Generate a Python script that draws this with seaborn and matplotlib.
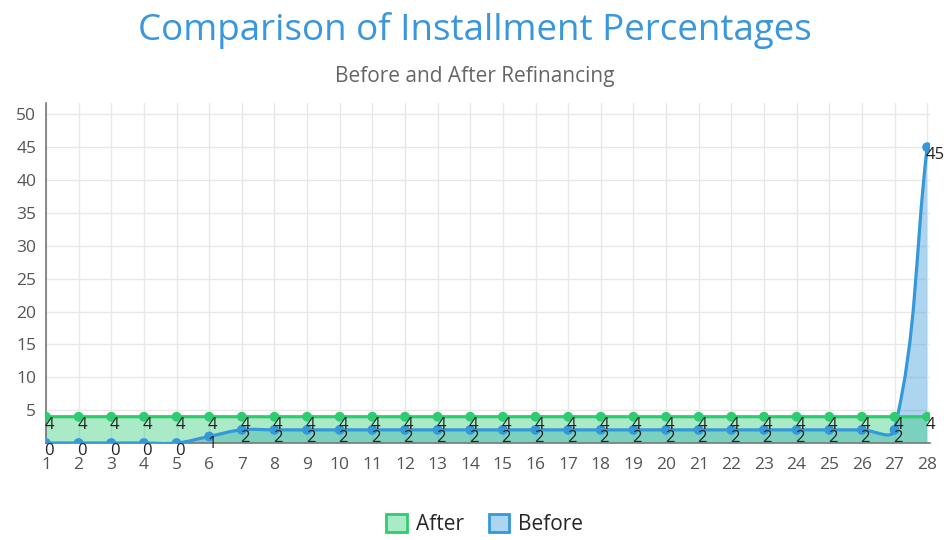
import numpy as np
import pandas as pd
import matplotlib
matplotlib.use("Agg")
import matplotlib.pyplot as plt
from matplotlib.path import Path
from matplotlib.patches import PathPatch, Patch
import seaborn as sns

# --- data ---
installments = list(range(1, 29))
after_pct = [4] * 28
before_pct = [0, 0, 0, 0, 0, 1] + [2] * 21 + [45]
series_names = ["After", "Before"]

GREEN = "#2ecc71"
BLUE = "#3498db"


def smooth_path(xs, ys, sx, sy, tension=0.4, close_to=None):
    # cubic bezier control points (same idea as chart.js splineCurve), in pixel-ish space
    px = np.asarray(xs, float) * sx
    py = np.asarray(ys, float) * sy
    n = len(px)
    cp_in, cp_out = [], []
    for i in range(n):
        a, b = max(i - 1, 0), min(i + 1, n - 1)
        d01 = np.hypot(px[i] - px[a], py[i] - py[a])
        d12 = np.hypot(px[b] - px[i], py[b] - py[i])
        tot = d01 + d12
        s01 = d01 / tot if tot else 0
        s12 = d12 / tot if tot else 0
        fa, fb = tension * s01, tension * s12
        dx, dy = px[b] - px[a], py[b] - py[a]
        cp_in.append((px[i] - fa * dx, py[i] - fa * dy))
        cp_out.append((px[i] + fb * dx, py[i] + fb * dy))
    verts = [(px[0], py[0])]
    codes = [Path.MOVETO]
    for i in range(n - 1):
        verts += [cp_out[i], cp_in[i + 1], (px[i + 1], py[i + 1])]
        codes += [Path.CURVE4] * 3
    if close_to is not None:
        verts += [(px[-1], close_to * sy), (px[0], close_to * sy), (px[0], py[0])]
        codes += [Path.LINETO, Path.LINETO, Path.CLOSEPOLY]
    verts = [(x / sx, y / sy) for x, y in verts]
    return Path(verts, codes)


sns.set_theme(style="whitegrid")
plt.rcParams["font.family"] = ["Open Sans", "DejaVu Sans"]

fig = plt.figure(figsize=(9.5, 5.4), dpi=100)
ax = fig.add_axes([0.0484, 0.1796, 0.931, 0.6294])

# pixel scale per data unit (for spline shaping)
sx, sy = 32.6, 6.58

# Before drawn first (underneath), After on top
for vals, col in [(before_pct, BLUE), (after_pct, GREEN)]:
    ax.add_patch(PathPatch(smooth_path(installments, vals, sx, sy, close_to=0),
                           facecolor=col, alpha=0.4, edgecolor="none", zorder=2))
    ax.add_patch(PathPatch(smooth_path(installments, vals, sx, sy),
                           facecolor="none", edgecolor=col, lw=2.3, zorder=3,
                           capstyle="round", joinstyle="round"))
    df = pd.DataFrame({"x": installments, "y": vals})
    sns.scatterplot(data=df, x="x", y="y", color=col, s=50, edgecolor="none",
                    ax=ax, zorder=4, legend=False)

# data labels, left-aligned at the point, hanging below it
for vals in (after_pct, before_pct):
    for x, v in zip(installments, vals):
        ax.annotate(str(v), (x, v), xytext=(-1, 0), textcoords="offset points",
                    ha="left", va="top", fontsize=12, color="#222222", zorder=6)

ax.set_xlim(1, 28.1)
ax.set_ylim(0, 51.7)
ax.set_xticks(installments)
ax.set_yticks(range(5, 51, 5))
ax.set_xlabel("")
ax.set_ylabel("")
ax.grid(True, color="#e8e8e8", lw=1)
ax.set_axisbelow(True)
for s in ["top", "right"]:
    ax.spines[s].set_visible(False)
ax.spines["left"].set_color("#777777")
ax.spines["bottom"].set_color("#777777")
ax.spines["left"].set_linewidth(1.2)
ax.spines["bottom"].set_linewidth(1.2)
ax.tick_params(axis="both", colors="#dddddd", length=6, width=1,
               labelcolor="#555555", labelsize=12.5, pad=1)
ax.tick_params(axis="x", pad=4)

fig.text(0.5, 0.944, "Comparison of Installment Percentages", ha="center", va="center",
         fontsize=26.5, color="#3a96dd")
fig.text(0.5, 0.858, "Before and After Refinancing", ha="center", va="center",
         fontsize=15, color="#666666")

handles = [Patch(facecolor=(*matplotlib.colors.to_rgb(c), 0.4), edgecolor=c, lw=2)
           for c in (GREEN, BLUE)]
fig.legend(handles, series_names, loc="center", bbox_to_anchor=(0.51, 0.029), ncol=2,
           frameon=False, fontsize=15, handlelength=1.0, handleheight=1.0,
           columnspacing=1.2, handletextpad=0.4)

fig.savefig("out.png", dpi=100)
